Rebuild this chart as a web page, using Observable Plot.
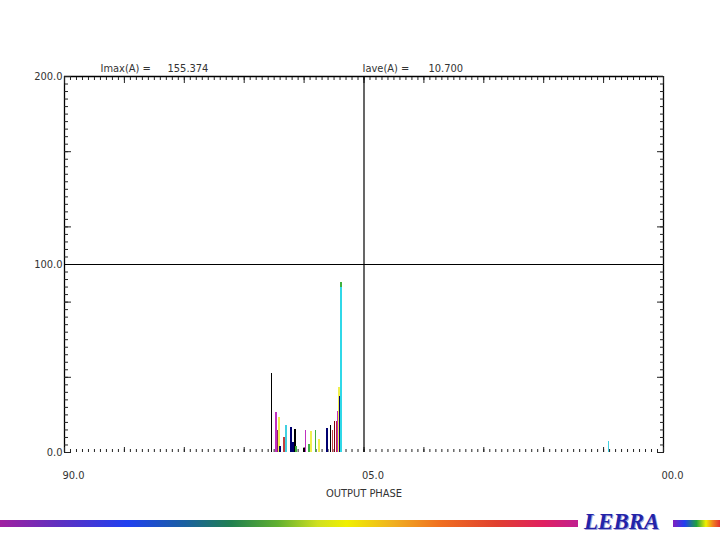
<!DOCTYPE html>
<html>
<head>
<meta charset="utf-8">
<script src="https://cdn.jsdelivr.net/npm/d3@7"></script>
<script src="https://cdn.jsdelivr.net/npm/@observablehq/plot@0.6"></script>
<style>
  html, body { margin: 0; padding: 0; background: #fff; }
  #wrap { position: relative; width: 720px; height: 540px; overflow: hidden; }
  #bar1 { position: absolute; left: 0; top: 520px; width: 578px; height: 7px;
    background: linear-gradient(to right, #a020a0 0%, #6030c0 10%, #2040f0 22%, #1a60a0 32%, #208050 40%, #60b030 48%, #d0e020 55%, #f0f000 60%, #f0b020 68%, #f07020 76%, #e04030 86%, #e02060 94%, #c02090 100%); }
  #bar2 { position: absolute; left: 673px; top: 520px; width: 47px; height: 7px;
    background: linear-gradient(to right, #8020c0 0%, #2040f0 25%, #20a040 50%, #f0f000 70%, #f08020 85%, #e03030 100%); }
  #lebra { position: absolute; left: 584px; top: 509px; font-family: "Liberation Serif", "Times New Roman", serif;
    font-style: italic; font-weight: bold; font-size: 23px; line-height: 26px; color: #2323a8;
    text-shadow: 1px 1px 0 #a0a0d8; }
</style>
</head>
<body>
<div id="wrap">
  <div id="bar1"></div>
  <div id="lebra">LEBRA</div>
  <div id="bar2"></div>
</div>
<script>
// ---- data ----
const phase = [-58.9, -58.25, -57.95, -57.75, -57.6, -57.05, -56.75, -56.0, -55.7, -55.4, -55.25,
               -54.05, -53.8, -53.3, -53.0, -52.3, -51.75, -50.6, -50.05, -49.75, -49.45, -49.15,
               -48.95, -48.8, -48.7, -48.45, -48.45, -8.25];
const intensity = [42.2, 21.4, 11.7, 18.8, 3.0, 8.2, 14.4, 13.5, 5.5, 12.4, 3.0,
                   2.0, 11.7, 4.5, 11.2, 11.7, 6.7, 12.9, 14.5, 11.7, 16.3, 16.3,
                   22.0, 34.7, 29.8, 90.5, 88.0, 6.0];
const barColor = ["#000000", "#c030c0", "#902060", "#f0f050", "#000070", "#c04040", "#40d0e0", "#000070", "#000070", "#000000", "#40b040",
                  "#000000", "#c030c0", "#40b040", "#f0f050", "#40b040", "#f0f050", "#000070", "#000000", "#c04040", "#800010", "#c02040",
                  "#c030c0", "#f0f050", "#000070", "#40b040", "#30d8e8", "#40d0e0"];
const xTickValues = [-90, -45, 0];
const xTickLabels = ["90.0", "05.0", "00.0"];
const yTickValues = [0, 100, 200];
const headerLabels = ["Imax(A) =", "155.374", "Iave(A) =", "10.700"];
const crossX = [-45];
const crossY = [100];

const bars = phase.map((p, i) => ({phase: p, value: intensity[i], color: barColor[i]}));

const font = "'DejaVu Sans Condensed', 'Liberation Sans Narrow', 'Arial Narrow', sans-serif";
const minorX = d3.range(0, 101).map(i => -90 + i * 0.9);
const majorX = d3.range(0, 11).map(i => -90 + i * 9);
const minorY = d3.range(0, 201, 4);
const majorY = d3.range(0, 201, 40);
const headerOffsets = [36, 103, 298, 364];

const headerMarks = headerLabels.map((t, i) =>
  Plot.text([t], {text: d => d, frameAnchor: "top-left", dx: headerOffsets[i], dy: -8,
    textAnchor: "start", lineAnchor: "middle", fill: "#333", fontSize: 11}));

const chart = Plot.plot({
  width: 720,
  height: 540,
  marginLeft: 64,
  marginRight: 57,
  marginTop: 76,
  marginBottom: 88,
  style: {fontFamily: font, fontSize: "11px", color: "#222", background: "transparent"},
  x: {domain: [-90, 0]},
  y: {domain: [0, 200]},
  marks: [
    // frame (left, top, right)
    Plot.ruleX([-90, 0], {stroke: "#000", strokeWidth: 1.3}),
    Plot.ruleY([200], {stroke: "#000", strokeWidth: 1.3}),
    // y axis ticks
    Plot.axisY({anchor: "left", ticks: minorY, tickSize: -4, fill: "none", label: null}),
    Plot.axisY({anchor: "left", ticks: majorY, tickSize: -7, fill: "none", label: null}),
    Plot.axisY({anchor: "right", ticks: minorY, tickSize: -4, fill: "none", label: null}),
    Plot.axisY({anchor: "right", ticks: majorY, tickSize: -7, fill: "none", label: null}),
    Plot.axisY({anchor: "left", ticks: yTickValues, tickSize: 0, tickPadding: 2,
      tickFormat: d => d.toFixed(1), label: null, fill: "#333"}),
    // x axis ticks
    Plot.axisX({anchor: "top", ticks: minorX, tickSize: -3, fill: "none", label: null}),
    Plot.axisX({anchor: "top", ticks: majorX, tickSize: -6, fill: "none", label: null}),
    Plot.axisX({anchor: "bottom", ticks: minorX, tickSize: -3, fill: "none", label: null}),
    Plot.axisX({anchor: "bottom", ticks: majorX, tickSize: -5, fill: "none", label: null}),
    Plot.axisX({anchor: "bottom", ticks: xTickValues, tickSize: 0, tickPadding: 19, dx: 9,
      tickFormat: d => xTickLabels[xTickValues.indexOf(d)], fill: "#333",
      label: "OUTPUT PHASE", labelAnchor: "center", labelOffset: 44, labelArrow: "none"}),
    // crosshair
    Plot.ruleX(crossX, {stroke: "#000", strokeWidth: 1.2}),
    Plot.ruleY(crossY, {stroke: "#000", strokeWidth: 1.2}),
    // bars
    Plot.ruleX(bars, {x: "phase", y1: 0, y2: "value", stroke: "color", strokeWidth: 1.6, shapeRendering: "crispEdges"}),
    // header text
    ...headerMarks
  ]
});

chart.style.position = "absolute";
chart.style.left = "0px";
chart.style.top = "0px";
document.getElementById("wrap").prepend(chart);
</script>
</body>
</html>
